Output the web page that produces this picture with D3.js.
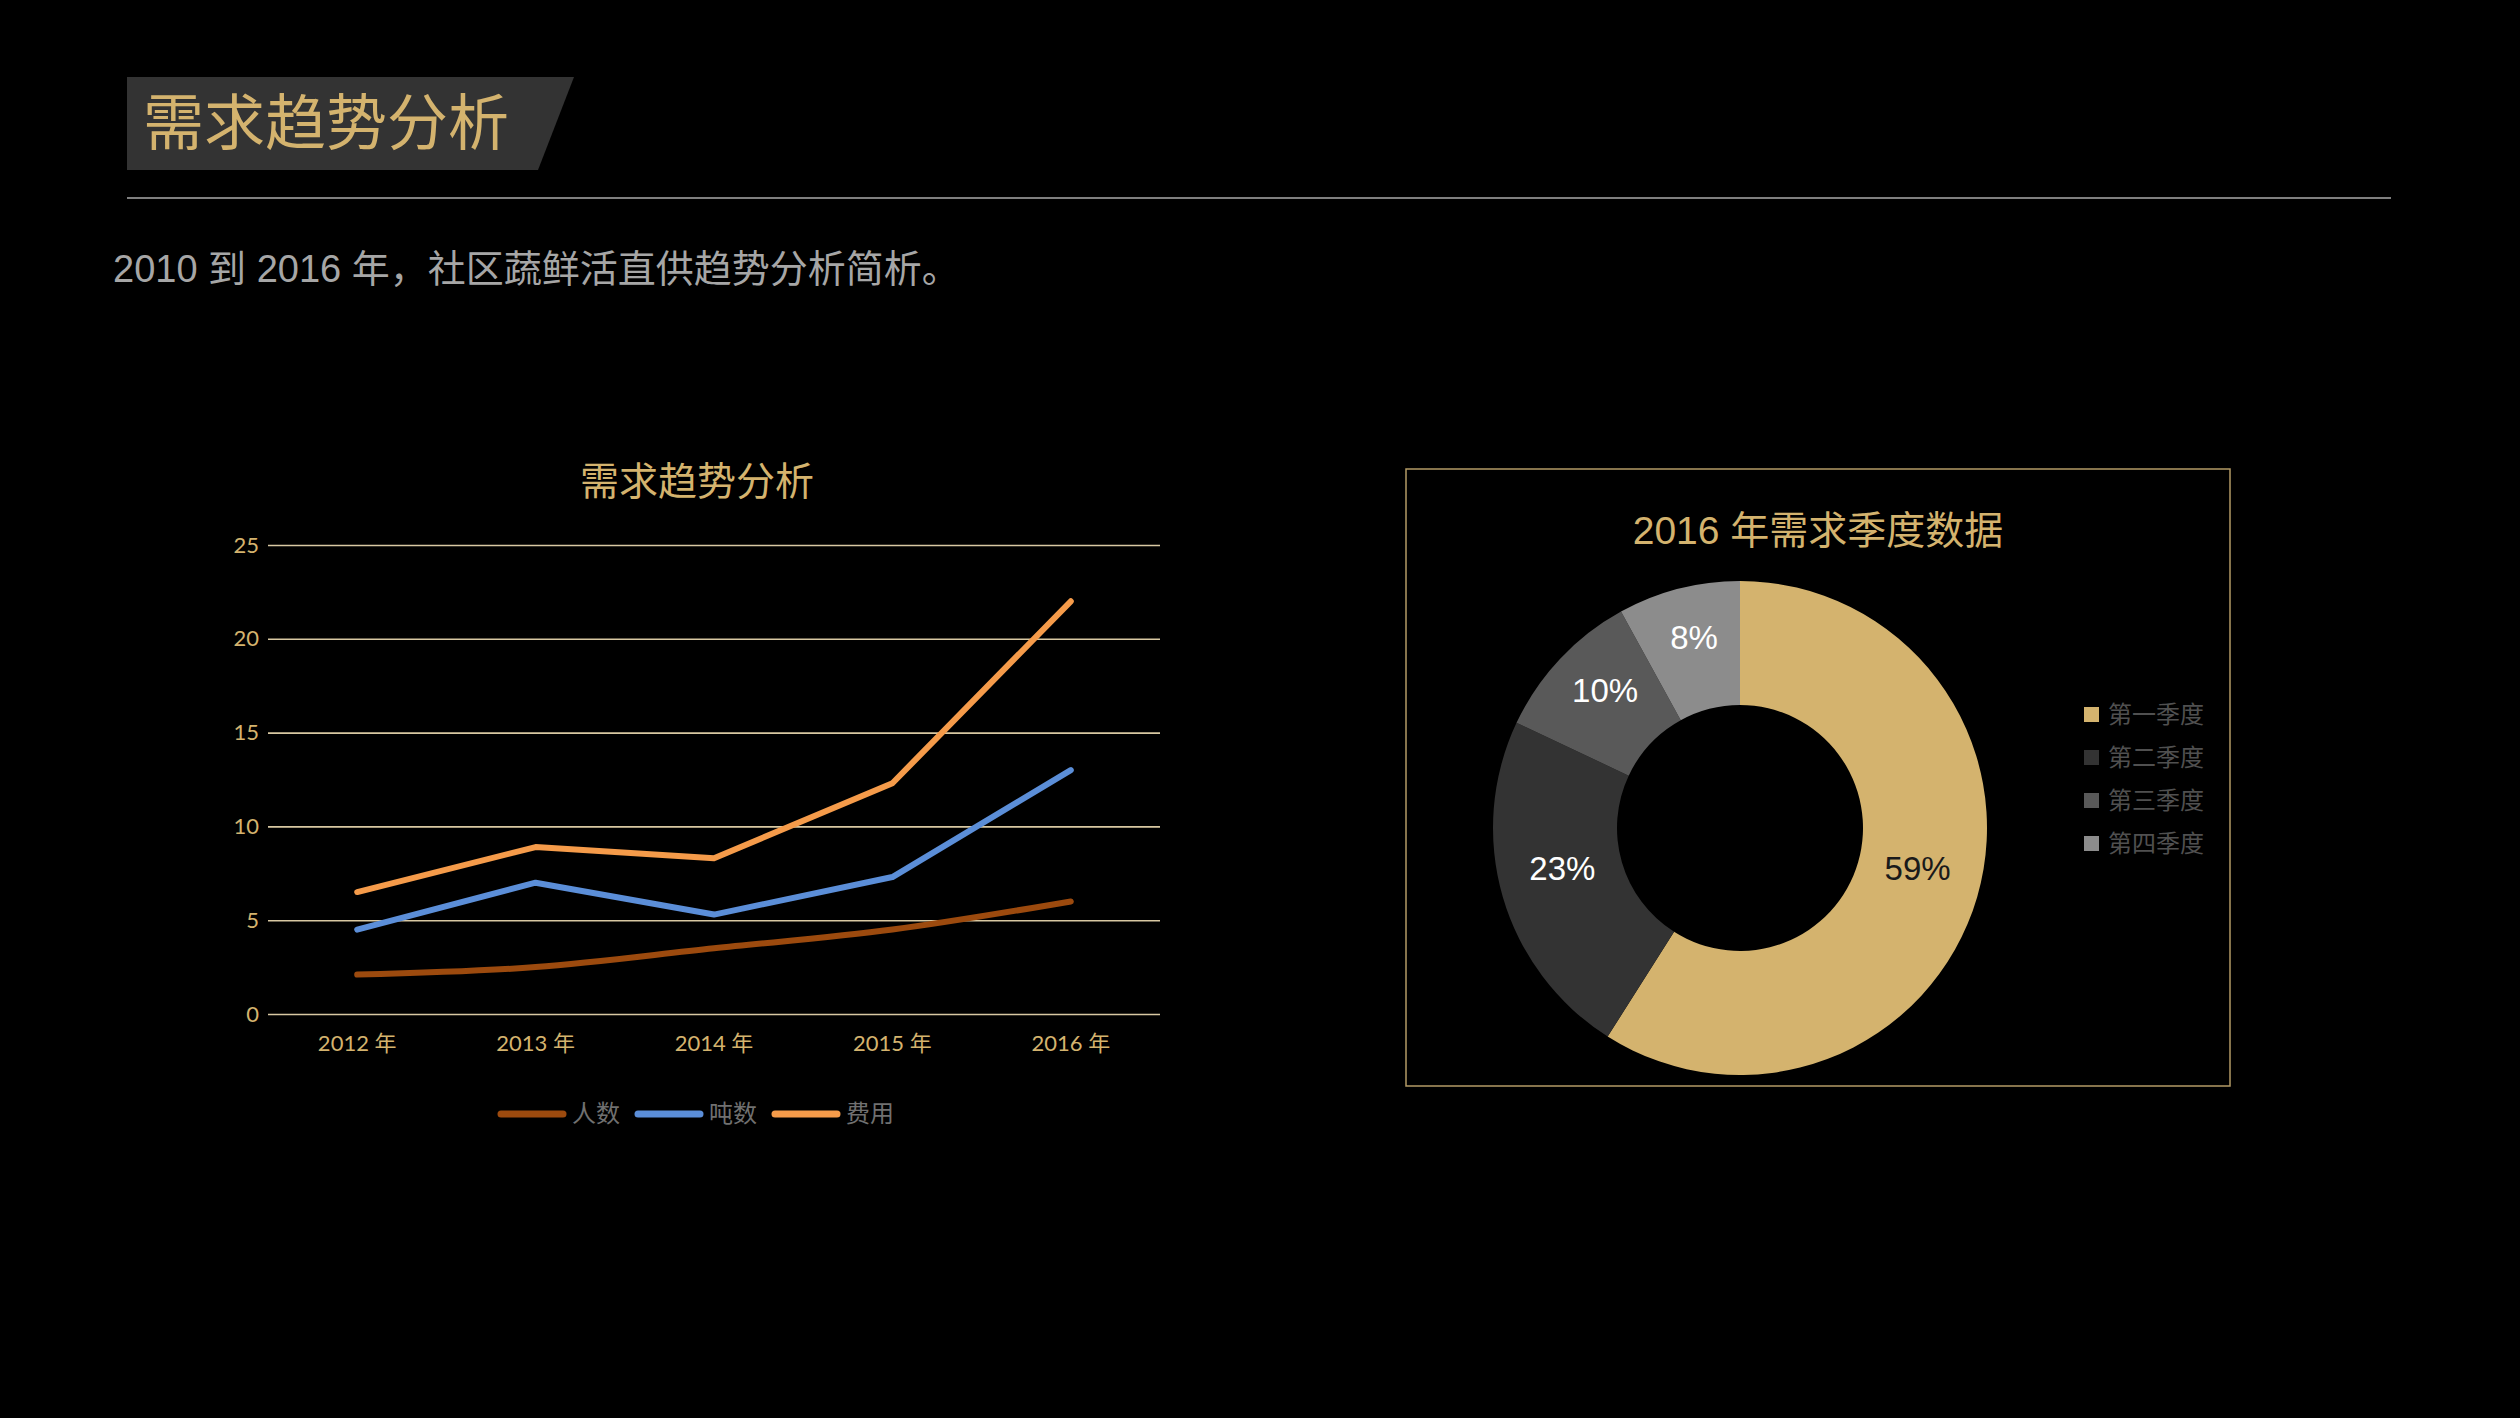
<!DOCTYPE html>
<html>
<head>
<meta charset="utf-8">
<script src="https://cdn.jsdelivr.net/npm/d3@7"></script>
<style>
  body { margin: 0; background: #000; }
  svg { display: block; }
</style>
</head>
<body>
<div id="slide"></div>
<script>
// line chart data
var years = ["2012 年", "2013 年", "2014 年", "2015 年", "2016 年"];
var seriesNames = ["人数", "吨数", "费用"];
var renshu = [2.1, 2.5, 3.5, 4.5, 6.0];
var dunshu = [4.5, 7.0, 5.3, 7.3, 13.0];
var feiyong = [6.5, 8.9, 8.3, 12.3, 22.0];
var yTicks = [0, 5, 10, 15, 20, 25];

// donut data
var quarters = ["第一季度", "第二季度", "第三季度", "第四季度"];
var quarterValues = [59, 23, 10, 8];

var gold = "#d4b36e";
var lineColors = ["#9c4a0e", "#5b8ed8", "#f59b4a"];
var sliceColors = ["#d4b36e", "#333333", "#595959", "#8c8c8c"];
var cjk = "'Noto Sans CJK SC', 'Noto Sans', sans-serif";
var latin = "'Liberation Sans', 'Noto Sans CJK SC', sans-serif";

var svg = d3.select("#slide").append("svg")
    .attr("width", 2520)
    .attr("height", 1418);

svg.append("rect").attr("width", 2520).attr("height", 1418).attr("fill", "#000");

// header block
svg.append("polygon")
    .attr("points", "127,77 574,77 538,170 127,170")
    .attr("fill", "#333333");

svg.append("text")
    .attr("x", 143)
    .attr("y", 145)
    .attr("font-family", cjk)
    .attr("font-size", 61)
    .attr("fill", gold)
    .text("需求趋势分析");

svg.append("line")
    .attr("x1", 127).attr("x2", 2391)
    .attr("y1", 198).attr("y2", 198)
    .attr("stroke", "#7f7f7f")
    .attr("stroke-width", 2);

svg.append("text")
    .attr("x", 113)
    .attr("y", 282)
    .attr("font-family", latin)
    .attr("font-size", 38)
    .attr("fill", "#a6a6a6")
    .text("2010 到 2016 年，社区蔬鲜活直供趋势分析简析。");

// ---------- line chart ----------
var margin = {top: 545, left: 268},
    width = 1160 - 268,
    height = 1014 - 545;

var g = svg.append("g")
    .attr("transform", "translate(" + margin.left + "," + margin.top + ")");

var xScale = d3.scaleBand()
    .domain(years)
    .range([0, width]);

var yScale = d3.scaleLinear()
    .domain([0, 25])
    .range([height, 0]);

svg.append("text")
    .attr("x", 697)
    .attr("y", 495)
    .attr("text-anchor", "middle")
    .attr("font-family", cjk)
    .attr("font-size", 39)
    .attr("fill", gold)
    .text("需求趋势分析");

// y axis + gridlines
var yAxis = g.append("g")
    .attr("class", "y axis")
    .call(d3.axisLeft(yScale)
        .tickValues(yTicks)
        .tickSize(-width)
        .tickPadding(9));
yAxis.select(".domain").remove();
yAxis.selectAll(".tick line")
    .attr("stroke", "#d8c8a2")
    .attr("stroke-width", 1.6);
yAxis.selectAll(".tick text")
    .attr("fill", gold)
    .attr("font-family", "Lato, sans-serif")
    .attr("font-size", 22);

// x axis labels
var xAxis = g.append("g")
    .attr("class", "x axis")
    .attr("transform", "translate(0," + height + ")")
    .call(d3.axisBottom(xScale).tickSize(0).tickPadding(21));
xAxis.select(".domain").remove();
xAxis.selectAll(".tick text")
    .attr("fill", gold)
    .attr("font-family", "Lato, 'Noto Sans CJK SC', sans-serif")
    .attr("font-size", 22);

var allSeries = [renshu, dunshu, feiyong];

var straight = d3.line()
    .x(function(d, i) { return xScale(years[i]) + xScale.bandwidth() / 2; })
    .y(function(d) { return yScale(d); });

var smooth = d3.line()
    .x(function(d, i) { return xScale(years[i]) + xScale.bandwidth() / 2; })
    .y(function(d) { return yScale(d); })
    .curve(d3.curveMonotoneX);

allSeries.forEach(function(s, k) {
    g.append("path")
        .datum(s)
        .attr("fill", "none")
        .attr("stroke", lineColors[k])
        .attr("stroke-width", 6)
        .attr("stroke-linecap", "round")
        .attr("stroke-linejoin", "round")
        .attr("d", k === 0 ? smooth : straight);
});

// legend under line chart
var legendX = [498, 635, 772];
seriesNames.forEach(function(name, k) {
    svg.append("line")
        .attr("x1", legendX[k] + 3).attr("x2", legendX[k] + 65)
        .attr("y1", 1114).attr("y2", 1114)
        .attr("stroke", lineColors[k])
        .attr("stroke-width", 7)
        .attr("stroke-linecap", "round");
    svg.append("text")
        .attr("x", legendX[k] + 74)
        .attr("y", 1122)
        .attr("font-family", cjk)
        .attr("font-size", 24)
        .attr("fill", "#707070")
        .text(name);
});

// ---------- donut chart ----------
svg.append("rect")
    .attr("x", 1406).attr("y", 469)
    .attr("width", 824).attr("height", 617)
    .attr("fill", "none")
    .attr("stroke", "#b39a66")
    .attr("stroke-width", 1.5);

svg.append("text")
    .attr("x", 1818)
    .attr("y", 544)
    .attr("text-anchor", "middle")
    .attr("font-family", latin)
    .attr("font-size", 39)
    .attr("fill", gold)
    .text("2016 年需求季度数据");

var outerR = 247, innerR = 123;
var pie = d3.pie().sort(null).value(function(d) { return d; });
var arc = d3.arc().innerRadius(innerR).outerRadius(outerR);
var total = d3.sum(quarterValues);

var donut = svg.append("g")
    .attr("transform", "translate(1740,828)");

var arcs = pie(quarterValues);

donut.selectAll("path")
    .data(arcs)
    .enter().append("path")
    .attr("d", arc)
    .attr("fill", function(d, i) { return sliceColors[i]; });

donut.selectAll("text.pct")
    .data(arcs)
    .enter().append("text")
    .attr("class", "pct")
    .attr("transform", function(d) { return "translate(" + arc.centroid(d) + ")"; })
    .attr("text-anchor", "middle")
    .attr("dy", "0.02em")
    .attr("font-family", "'Liberation Sans', Arial, sans-serif")
    .attr("font-size", 33)
    .attr("fill", function(d, i) { return i === 0 ? "#1a1a1a" : "#ffffff"; })
    .text(function(d) { return Math.round(d.value / total * 100) + "%"; });

// donut legend
quarters.forEach(function(q, i) {
    var y = 714 + i * 43;
    svg.append("rect")
        .attr("x", 2084).attr("y", y - 7)
        .attr("width", 15).attr("height", 15)
        .attr("fill", sliceColors[i]);
    svg.append("text")
        .attr("x", 2108)
        .attr("y", y + 9)
        .attr("font-family", cjk)
        .attr("font-size", 24)
        .attr("fill", "#505050")
        .text(q);
});
</script>
</body>
</html>
